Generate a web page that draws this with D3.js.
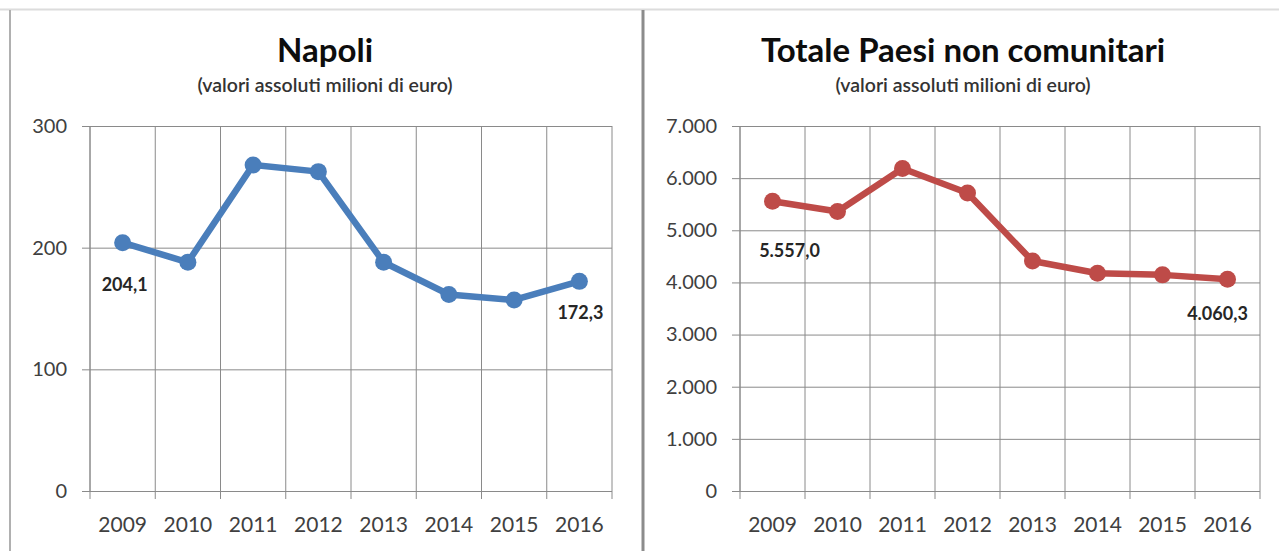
<!DOCTYPE html>
<html>
<head>
<meta charset="utf-8">
<script src="https://cdn.jsdelivr.net/npm/d3@7"></script>
<style>
  body { margin: 0; background: #fff; }
  text { font-family: Lato, "Open Sans", sans-serif; }
</style>
</head>
<body>
<svg id="chart"></svg>
<script>
var years = ["2009", "2010", "2011", "2012", "2013", "2014", "2015", "2016"]

var napoli = [204.1, 188, 268, 262.5, 188, 161.5, 157, 172.3]
var napoliTicks = [0, 100, 200, 300]

var extraUe = [5557.0, 5360, 6185, 5715, 4410, 4175, 4145, 4060.3]
var extraUeTicks = [0, 1000, 2000, 3000, 4000, 5000, 6000, 7000]

var subtitle = "(valori assoluti milioni di euro)"

var itFormat = d3.formatLocale({decimal: ",", thousands: ".", grouping: [3], currency: ["€", ""]})

var width = 1279
var height = 551

var svg = d3.select("#chart")
	.attr("width", width)
	.attr("height", height)
	.attr("viewBox", [0, 0, width, height])

// frame lines of the two excel charts
svg.append("line").attr("x1", 0).attr("x2", width).attr("y1", 9.5).attr("y2", 9.5)
	.attr("stroke", "#dcdcdc").attr("stroke-width", 2)
svg.append("line").attr("x1", 10).attr("x2", 10).attr("y1", 10).attr("y2", height)
	.attr("stroke", "#b0b0b0").attr("stroke-width", 2)
svg.append("line").attr("x1", 643).attr("x2", 643).attr("y1", 10).attr("y2", height)
	.attr("stroke", "#8c8c8c").attr("stroke-width", 3)

function draw_panel(opts) {
	var margin = opts.margin

	var x = d3.scaleBand()
		.domain(years)
		.range([margin.left, margin.right])

	var y = d3.scaleLinear()
		.domain([0, opts.max])
		.range([margin.bottom, margin.top])

	var g = svg.append("g")

	// title + subtitle
	g.append("text")
		.attr("x", opts.cx).attr("y", 62)
		.attr("text-anchor", "middle")
		.attr("font-size", 33).attr("font-weight", "bold")
		.attr("fill", "#0d0d0d")
		.text(opts.title)
	g.append("text")
		.attr("x", opts.cx).attr("y", 92)
		.attr("text-anchor", "middle")
		.attr("font-size", 19.5).attr("font-weight", 600)
		.attr("fill", "#333")
		.text(subtitle)

	// horizontal grid
	g.append("g")
		.attr("transform", `translate(${margin.left},0)`)
		.call(d3.axisLeft(y).tickValues(opts.ticks).tickSize(8).tickFormat(opts.fmt))
		.call(a => a.select(".domain").remove())
		.call(a => a.selectAll(".tick line").clone()
			.attr("x2", margin.right - margin.left)
			.attr("stroke", "#8a8a8a"))
		.call(a => a.selectAll(".tick line").attr("stroke", "#8a8a8a"))
		.call(a => a.selectAll(".tick text")
			.attr("x", -23)
			.attr("font-size", 20)
			.attr("fill", "#404040"))

	// vertical grid at category borders
	var edges = years.map(d => x(d)).concat([margin.right])
	g.append("g").selectAll("line")
		.data(edges)
		.join("line")
		.attr("x1", d => d).attr("x2", d => d)
		.attr("y1", margin.top).attr("y2", margin.bottom + 8)
		.attr("stroke", "#8a8a8a")

	// left axis line
	g.append("line")
		.attr("x1", margin.left).attr("x2", margin.left)
		.attr("y1", margin.top).attr("y2", margin.bottom)
		.attr("stroke", "#8a8a8a")

	// category labels
	g.append("g")
		.attr("transform", `translate(0,${margin.bottom})`)
		.call(d3.axisBottom(x).tickSize(0).tickPadding(26))
		.call(a => a.select(".domain").remove())
		.call(a => a.selectAll(".tick text")
			.attr("font-size", 21)
			.attr("fill", "#404040"))

	var cx = d => x(d) + x.bandwidth() / 2

	var line = d3.line()
		.x((d, i) => cx(years[i]))
		.y(d => y(d))

	g.append("path")
		.attr("fill", "none")
		.attr("stroke", opts.color)
		.attr("stroke-width", 6.5)
		.attr("stroke-linejoin", "round")
		.attr("d", line(opts.values))

	g.append("g").selectAll("circle")
		.data(opts.values)
		.join("circle")
		.attr("cx", (d, i) => cx(years[i]))
		.attr("cy", d => y(d))
		.attr("r", 8.5)
		.attr("fill", opts.color)

	// data labels on first and last point
	var last = opts.values.length - 1
	;[0, last].forEach(i => {
		g.append("text")
			.attr("x", cx(years[i]) + opts.labelDx[i === 0 ? 0 : 1])
			.attr("y", y(opts.values[i]) + opts.labelDy[i === 0 ? 0 : 1])
			.attr("text-anchor", "middle")
			.attr("font-size", 18).attr("font-weight", "bold")
			.attr("fill", "#262626")
			.text(itFormat.format(",.1f")(opts.values[i]))
	})
}

draw_panel({
	title: "Napoli",
	cx: 325,
	margin: {left: 90, right: 612, top: 126, bottom: 491},
	max: 300,
	ticks: napoliTicks,
	fmt: d => d,
	values: napoli,
	color: "#4a7ebb",
	labelDx: [2, 1],
	labelDy: [48, 38]
})

draw_panel({
	title: "Totale Paesi non comunitari",
	cx: 963,
	margin: {left: 740, right: 1260, top: 126, bottom: 491},
	max: 7000,
	ticks: extraUeTicks,
	fmt: itFormat.format(",.0f"),
	values: extraUe,
	color: "#be4b48",
	labelDx: [17, -10],
	labelDy: [56, 41]
})
</script>
</body>
</html>
